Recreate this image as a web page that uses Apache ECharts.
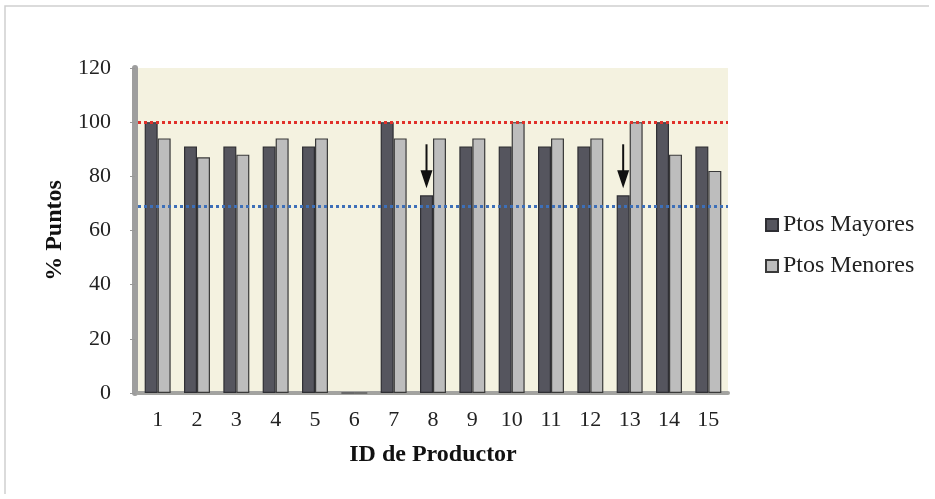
<!DOCTYPE html>
<html>
<head>
<meta charset="utf-8">
<script src="https://cdn.jsdelivr.net/npm/echarts@6/dist/echarts.min.js"></script>
<style>
  html, body { margin: 0; padding: 0; background: #ffffff; }
  #chart { width: 935px; height: 499px; }
</style>
</head>
<body>
<div id="chart"></div>
<script>
// Producer IDs on the category axis
const productores = ['1', '2', '3', '4', '5', '6', '7', '8', '9', '10', '11', '12', '13', '14', '15'];
// Percentage of points met, per producer
const ptosMayores = [100, 91, 91, 91, 91, 0, 100, 73, 91, 91, 91, 91, 73, 100, 91];
const ptosMenores = [94, 87, 88, 94, 94, 0, 94, 94, 94, 100, 94, 94, 100, 88, 82];
// Threshold reference lines
const limiteMayores = 100;
const limiteMenores = 69;
// Producers flagged with an arrow (below the minimum of major points)
const senalados = ['8', '13'];

const serif = '"Liberation Serif", "Times New Roman", serif';

const flechas = senalados.map(function (id) {
  const i = productores.indexOf(id);
  return [id, ptosMayores[i]];
});

const chart = echarts.init(document.getElementById('chart'));

chart.setOption({
  animation: false,
  backgroundColor: '#ffffff',
  textStyle: { fontFamily: serif },
  graphic: [{
    type: 'polyline',
    silent: true,
    shape: { points: [[5, 494], [5, 6], [929, 6]] },
    style: { stroke: '#cfcfcf', lineWidth: 1.5, fill: null }
  }],
  grid: {
    left: 138, right: 207, top: 68, bottom: 106,
    show: true,
    backgroundColor: '#f4f2e0',
    borderWidth: 0
  },
  legend: {
    orient: 'vertical',
    left: 760, top: 208,
    itemWidth: 12, itemHeight: 12, itemGap: 17,
    icon: 'rect',
    textStyle: { fontFamily: serif, fontSize: 24, color: '#222' },
    data: ['Ptos Mayores', 'Ptos Menores']
  },
  xAxis: {
    type: 'category',
    data: productores,
    name: 'ID de Productor',
    nameLocation: 'middle',
    nameGap: 50,
    nameMoveOverlap: false,
    nameTextStyle: { fontFamily: serif, fontSize: 24, fontWeight: 'bold', color: '#111' },
    axisLine: { show: true, lineStyle: { color: '#a3a3a0', width: 4 } },
    axisTick: { show: false },
    axisLabel: { fontFamily: serif, fontSize: 22, color: '#222', margin: 16 }
  },
  yAxis: {
    type: 'value',
    min: 0, max: 120, interval: 20,
    offset: 3,
    name: '% Puntos',
    nameLocation: 'middle',
    nameGap: 62,
    nameTextStyle: { fontFamily: serif, fontSize: 24, fontWeight: 'bold', color: '#111' },
    axisLine: { show: true, lineStyle: { color: '#9e9e9e', width: 6 } },
    axisTick: { show: true, length: 5, lineStyle: { color: '#999', width: 1 } },
    axisLabel: { fontFamily: serif, fontSize: 22, color: '#222', margin: 24 },
    splitLine: { show: false }
  },
  series: [
    {
      name: 'Ptos Mayores',
      type: 'bar',
      data: ptosMayores,
      barGap: '0%',
      barCategoryGap: '34%',
      itemStyle: { color: '#55555e', borderColor: '#2e2e33', borderWidth: 1.2 },
      markLine: {
        silent: true,
        symbol: 'none',
        label: { show: false },
        data: [
          { yAxis: limiteMayores, lineStyle: { color: '#e0302a', type: [3, 3], width: 3 } },
          { yAxis: limiteMenores, lineStyle: { color: '#3d6fb8', type: [3, 3], width: 3 } }
        ]
      },
      z: 2
    },
    {
      name: 'Ptos Menores',
      type: 'bar',
      data: ptosMenores,
      itemStyle: { color: '#bdbdbd', borderColor: '#3a3a3a', borderWidth: 1.2 },
      z: 2
    },
    {
      // Downward arrows pointing at the flagged major-points bars
      type: 'custom',
      data: flechas,
      silent: true,
      z: 5,
      renderItem: function (params, api) {
        const p = api.coord([api.value(0), api.value(1)]);
        const band = api.size([1, 0])[0];
        const x = p[0] - band * 0.33 / 2;
        const tip = p[1] - 7;
        const tail = tip - 44;
        const headH = 18, headW = 12;
        return {
          type: 'group',
          children: [
            {
              type: 'line',
              shape: { x1: x, y1: tail, x2: x, y2: tip - headH + 2 },
              style: { stroke: '#111', lineWidth: 2 }
            },
            {
              type: 'polygon',
              shape: { points: [[x - headW / 2, tip - headH], [x + headW / 2, tip - headH], [x, tip]] },
              style: { fill: '#111' }
            }
          ]
        };
      }
    }
  ]
});
</script>
</body>
</html>
